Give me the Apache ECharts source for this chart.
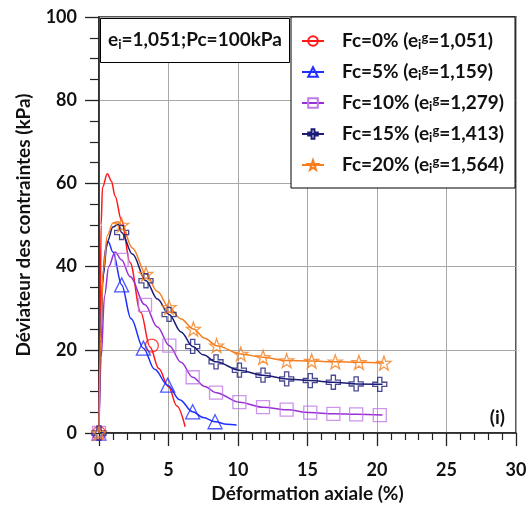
<!DOCTYPE html>
<html><head><meta charset="utf-8">
<script src="https://cdn.jsdelivr.net/npm/echarts@6/dist/echarts.min.js"></script>
<style>html,body{margin:0;padding:0;background:#fff}#c{width:532px;height:508px}</style>
</head><body><div id="c"></div>
<script>
const fcLabels = ['Fc=0%','Fc=5%','Fc=10%','Fc=15%','Fc=20%'];
const eigValues = ['1,051','1,159','1,279','1,413','1,564'];

// Curves (smoothed lines)
const fc0CurveX = [0,0.08,0.15,0.25,0.6,0.9,1.15,1.63,2.23,3.0,3.67,4.3,5.0,5.6,6.2];
const fc0CurveY = [0,25,50,59,62.3,60.5,57,51,41,29,20.7,15.5,11.1,6.5,1.5];
const fc5CurveX = [0,0.1,0.25,0.45,0.67,1.0,1.63,2.3,3.19,4.0,4.94,5.8,6.74,7.5,8.35,9.2,9.9];
const fc5CurveY = [0,20,36,44,46,43.5,35.6,27.5,20.4,15.3,11.5,8,5.1,3.7,2.7,2.1,1.9];
const fc10CurveX = [0,0.15,0.4,0.7,1.15,1.63,2.23,3.31,4.2,5.06,5.9,6.74,7.6,8.42,10.1,11.8,13.5,15.2,16.86,18.5,20.4];
const fc10CurveY = [0,18,33,40,43.5,41.6,37.6,30.8,25.5,21,17,13.4,11.2,9.7,7.4,6.2,5.6,4.9,4.6,4.5,4.3];
const fc15CurveX = [0,0.1,0.3,0.6,1.0,1.39,1.63,2.4,3.38,4.2,5.04,5.9,6.74,7.5,8.42,10.1,11.8,13.5,15.2,16.86,18.5,20.4];
const fc15CurveY = [0,22,38,46,49.5,50.2,48.2,43,36.6,32.2,28.5,24.3,20.8,18.8,17.1,15.1,13.9,13.0,12.6,12.2,11.8,11.7];
const fc20CurveX = [0,0.1,0.3,0.6,1.0,1.39,1.63,2.4,3.38,4.2,5.04,5.9,6.79,7.6,8.46,10.2,11.8,13.5,15.3,17.0,18.7,20.5];
const fc20CurveY = [0,22,39,47.5,50.5,50.8,50,44.5,38.2,34,30.2,27.4,25,22.8,21,19,18.2,17.4,17.3,17.1,17.0,16.8];

// Measured points (markers)
const fc0MarkX = [0,3.8];
const fc0MarkY = [0,21];
const fc5MarkX = [0,1.63,3.19,4.94,6.74,8.35];
const fc5MarkY = [0,35.6,20.4,11.5,5.1,2.7];
const fc10MarkX = [0,1.63,3.31,5.06,6.74,8.42,10.1,11.8,13.5,15.2,16.86,18.5,20.2];
const fc10MarkY = [0,41.6,30.8,21,13.4,9.7,7.4,6.2,5.6,4.9,4.6,4.5,4.3];
const fc15MarkX = [0,1.63,3.38,5.04,6.74,8.42,10.1,11.8,13.5,15.2,16.86,18.5,20.2];
const fc15MarkY = [0,48.2,36.6,28.5,20.8,17.1,15.1,13.9,13.0,12.6,12.2,11.8,11.7];
const fc20MarkX = [0,1.63,3.38,5.04,6.79,8.46,10.2,11.8,13.5,15.3,17.0,18.7,20.5];
const fc20MarkY = [0,50,38.2,30.2,25,21,19,18.2,17.4,17.3,17.1,17.0,16.8];

const curves = [[fc0CurveX,fc0CurveY],[fc5CurveX,fc5CurveY],[fc10CurveX,fc10CurveY],[fc15CurveX,fc15CurveY],[fc20CurveX,fc20CurveY]];
const marks = [[fc0MarkX,fc0MarkY],[fc5MarkX,fc5MarkY],[fc10MarkX,fc10MarkY],[fc15MarkX,fc15MarkY],[fc20MarkX,fc20MarkY]];

const STAR = 'path://M0,-10 L2.35,-3.24 L9.51,-3.09 L3.8,1.24 L5.88,8.09 L0,4 L-5.88,8.09 L-3.8,1.24 L-9.51,-3.09 L-2.35,-3.24 Z';
const PLUS = 'path://M-3,-10 L3,-10 L3,-3 L10,-3 L10,3 L3,3 L3,10 L-3,10 L-3,3 L-10,3 L-10,-3 L-3,-3 Z';
const styles = [
  {line:'#ff1a1a', mark:'#ff1a1a', symbol:'circle', size:13},
  {line:'#1f2fff', mark:'#1f2fff', symbol:'triangle', size:14},
  {line:'#9a2fd6', mark:'#c07ae8', symbol:'rect', size:13},
  {line:'#1c1c78', mark:'#1c1c78', symbol:PLUS, size:14},
  {line:'#f57f1f', mark:'#f57f1f', symbol:STAR, size:14}
];

const zip = (xs, ys) => xs.map((x, i) => [x, ys[i]]);
const FONT = 'Lato';
const series = [];
fcLabels.forEach((name, i) => {
  const s = styles[i];
  series.push({
    type:'line', name, data: zip(curves[i][0], curves[i][1]),
    smooth: 0.35, smoothMonotone: 'x', showSymbol:false,
    symbol: s.symbol, symbolSize: s.size - 1,
    lineStyle:{color:s.line, width:1.5},
    itemStyle:{color:'rgba(255,255,255,0)', borderColor:s.mark, borderWidth:1.3},
    emphasis:{disabled:true}, z:2
  });
  series.push({
    type:'scatter', name, data: zip(marks[i][0], marks[i][1]),
    symbol: s.symbol, symbolSize: s.size,
    itemStyle:{color:'rgba(255,255,255,0)', borderColor:s.mark, borderWidth:1.3},
    emphasis:{disabled:true}, z:3
  });
});

const chart = echarts.init(document.getElementById('c'));
chart.setOption({
  animation:false,
  backgroundColor:'#fff',
  textStyle:{fontFamily:FONT},
  title:{
    text:'{b|e}{sub|i}{b|=1,051;Pc=100kPa}',
    left:100, top:17,
    padding:[12,8,12,8],
    borderColor:'#000', borderWidth:1, backgroundColor:'#fff',
    textStyle:{
      rich:{
        b:{fontFamily:FONT, fontWeight:'bold', fontSize:19, color:'#111', lineHeight:22},
        sub:{fontFamily:FONT, fontWeight:'bold', fontSize:13, color:'#111', verticalAlign:'bottom', lineHeight:11}
      }
    }
  },
  legend:{
    orient:'vertical', left:291, top:17,
    padding:[14,11,13,10],
    itemWidth:22, itemHeight:12, itemGap:11,
    borderColor:'#000', borderWidth:1, backgroundColor:'#fff',
    data: fcLabels,
    formatter: name => {
      const i = fcLabels.indexOf(name);
      return `{p|}{b|${name} (e}{sub|i}{sup|g}{b|=${eigValues[i]})}`;
    },
    textStyle:{
      rich:{
        p:{width:13},
        b:{fontFamily:FONT, fontWeight:'bold', fontSize:19, color:'#111', lineHeight:20},
        sub:{fontFamily:FONT, fontWeight:'bold', fontSize:13, color:'#111', verticalAlign:'bottom', lineHeight:9},
        sup:{fontFamily:FONT, fontWeight:'bold', fontSize:13, color:'#111', verticalAlign:'top', lineHeight:9}
      }
    },
    selectedMode:false
  },
  grid:{left:99, right:16, top:17, bottom:75, show:true, borderColor:'#222', borderWidth:1.5},
  xAxis:{
    type:'value', min:0, max:30, interval:5,
    name:'Déformation axiale (%)', nameLocation:'middle', nameGap:50,
    nameTextStyle:{fontFamily:FONT, fontWeight:'bold', fontSize:19, color:'#111'},
    axisLine:{show:true, onZero:false, lineStyle:{color:'#222', width:1.5}},
    axisTick:{show:true, length:13, lineStyle:{color:'#222', width:1.3}},
    minorTick:{show:true, splitNumber:5, length:7, lineStyle:{color:'#222', width:1.2}},
    axisLabel:{margin:28, fontFamily:FONT, fontWeight:'bold', fontSize:18, color:'#111'},
    splitLine:{show:true, lineStyle:{color:'#a8a8a8', width:1}}
  },
  yAxis:{
    type:'value', min:0, max:100, interval:20,
    name:'Déviateur des contraintes (kPa)', nameLocation:'middle', nameGap:66,
    nameTextStyle:{fontFamily:FONT, fontWeight:'bold', fontSize:19, color:'#111'},
    axisLine:{show:true, onZero:false, lineStyle:{color:'#222', width:1.5}},
    axisTick:{show:true, length:14, lineStyle:{color:'#222', width:1.3}},
    minorTick:{show:true, splitNumber:4, length:9, lineStyle:{color:'#222', width:1.2}},
    axisLabel:{margin:22, fontFamily:FONT, fontWeight:'bold', fontSize:18, color:'#111'},
    splitLine:{show:true, lineStyle:{color:'#a8a8a8', width:1}}
  },
  graphic:[{
    type:'text', right:27, bottom:81,
    style:{text:'(i)', font:'bold 19px Lato', fill:'#111'}
  }],
  series
});
</script>
</body></html>
